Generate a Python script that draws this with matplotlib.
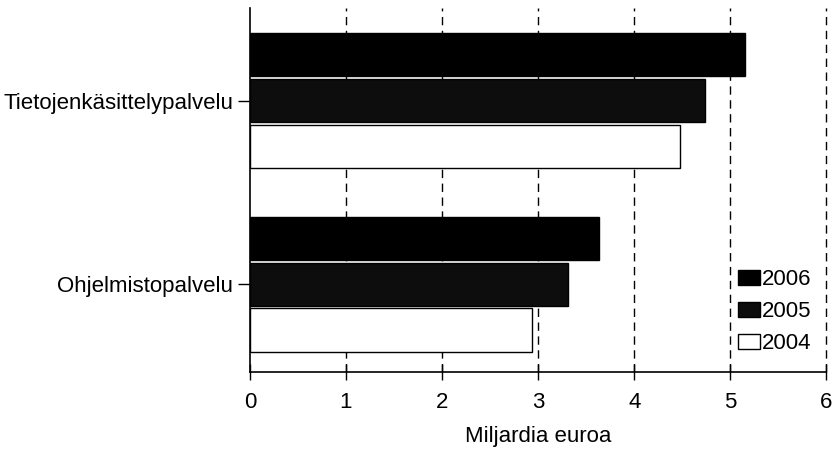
import numpy as np
import matplotlib.pyplot as plt

plt.rcParams['font.family'] = ['Liberation Sans', 'DejaVu Sans']

categories = ["Ohjelmistopalvelu", "Tietojenkäsittelypalvelu"]
years = ["2006", "2005", "2004"]
values = {
    "2006": [3.63, 5.15],
    "2005": [3.31, 4.74],
    "2004": [2.94, 4.48],
}
colors = {"2006": "#000000", "2005": "#0d0d0d", "2004": "#ffffff"}
offsets = {"2006": 0.25, "2005": 0.0, "2004": -0.25}

fig = plt.figure(figsize=(8.33, 4.5), dpi=100)
ax = fig.add_axes([0.300, 0.173, 0.692, 0.809])

y = np.arange(len(categories))
for yr in years:
    ax.barh(y + offsets[yr], values[yr], height=0.235, color=colors[yr],
            edgecolor='black', linewidth=1.0, label=yr, zorder=3)

ax.set_xlim(0, 6)
ax.set_ylim(-0.48, 1.505)
ax.set_xticks(range(7))
ax.set_yticks(y)
ax.set_yticklabels(categories)
ax.tick_params(axis='both', labelsize=16, length=9, width=1, color='black')
ax.tick_params(axis='y', pad=3)
ax.tick_params(axis='x', direction='inout', length=12, pad=8)
ax.set_xlabel("Miljardia euroa", fontsize=16, labelpad=10)

for x in range(1, 7):
    ax.axvline(x, color='black', linestyle=(0, (6, 4)), linewidth=1.0,
               zorder=1, clip_on=False)

for s in ['top', 'right']:
    ax.spines[s].set_visible(False)
ax.spines['left'].set_linewidth(1.2)
ax.spines['bottom'].set_linewidth(1.2)

ax.legend(loc='lower right', bbox_to_anchor=(0.989, 0.025), frameon=False,
          fontsize=16, handlelength=1.0, handleheight=0.68,
          handletextpad=0.05, labelspacing=0.5, borderaxespad=0)

plt.savefig("out.png", dpi=100)
